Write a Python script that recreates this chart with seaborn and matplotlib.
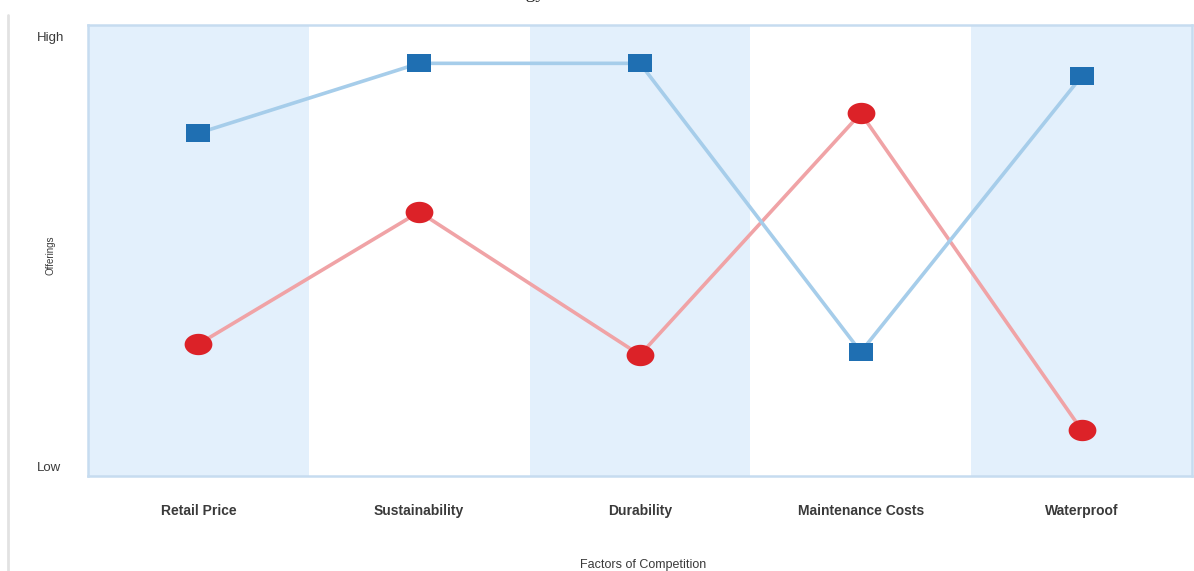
import numpy as np
import pandas as pd
import matplotlib
matplotlib.use("Agg")
import matplotlib.pyplot as plt
import seaborn as sns
from matplotlib.lines import Line2D

# Factors and offering levels (0 = Low, 10 = High)
factors = ["Retail Price", "Sustainability", "Durability", "Maintenance Costs", "Waterproof"]
blue_offering = [7.75, 9.37, 9.37, 2.67, 9.07]
red_offering = [2.85, 5.92, 2.60, 8.21, 0.86]
level_ticks = [0, 10]
level_labels = ["Low", "High"]

sns.set_theme(style="white")
plt.rcParams["font.family"] = ["Liberation Sans", "DejaVu Sans"]

df = pd.DataFrame({
    "pos": list(range(len(factors))) * 2,
    "level": blue_offering + red_offering,
    "series": ["blue"] * len(factors) + ["red"] * len(factors),
})

fig = plt.figure(figsize=(11.94, 5.71), dpi=100)
ax = fig.add_axes([88 / 1194, 1 - 476 / 571, (1192 - 88) / 1194, (476 - 25) / 571])

# alternating column shading
band_color = "#e3f0fc"
for i in range(len(factors)):
    if i % 2 == 0:
        ax.axvspan(i - 0.5, i + 0.5, color=band_color, lw=0, zorder=0)

# wide rectangle and ellipse markers
rect = [(-1.35, -1), (1.35, -1), (1.35, 1), (-1.35, 1), (-1.35, -1)]
t = np.linspace(0, 2 * np.pi, 60)
ellipse = list(zip(1.3 * np.cos(t), np.sin(t)))

blue_df = df[df.series == "blue"]
red_df = df[df.series == "red"]

sns.lineplot(data=red_df, x="pos", y="level", ax=ax, color="#f0a3a6", lw=2.6,
             marker=ellipse, markersize=20, markerfacecolor="#dc2228",
             markeredgewidth=0, zorder=3)
sns.lineplot(data=blue_df, x="pos", y="level", ax=ax, color="#a6cdea", lw=2.6,
             marker=rect, markersize=17.5, markerfacecolor="#1f6fb2",
             markeredgewidth=0, zorder=3)

ax.set_xlim(-0.5, len(factors) - 0.5)
ax.set_ylim(-0.21, 10.26)
ax.set_xticks(range(len(factors)))
ax.set_xticklabels(factors, fontsize=10, fontweight="bold", color="#3a3a3a")
ax.set_yticks(level_ticks)
ax.set_yticklabels(level_labels, fontsize=9.5, color="#3a3a3a")
for lbl in ax.get_yticklabels():
    lbl.set_horizontalalignment("left")
ax.tick_params(axis="x", length=0, pad=20)
ax.tick_params(axis="y", length=0, pad=37)
ax.set_xlabel("")
ax.set_ylabel("")

for s in ax.spines.values():
    s.set_color("#c6dcf0")
    s.set_linewidth(1.8)

fig.text(643 / 1194, 1 - 565 / 571, "Factors of Competition", ha="center", va="center",
         fontsize=9, color="#3a3a3a")
fig.text(50 / 1194, 1 - 255 / 571, "Offerings", ha="center", va="center",
         rotation=90, fontsize=7, color="#3a3a3a")

# heading above the chart, mostly beyond the top edge
fig.text(480 / 1194, 1 + 2 / 571, "Strategy Canvas", ha="left", va="baseline",
         fontsize=14, family="Liberation Serif", color="#222222")

# thin rule along the left edge
fig.add_artist(Line2D([8 / 1194, 8 / 1194], [0, 1 - 15 / 571], transform=fig.transFigure,
                      color="#e2e2e2", lw=2))

fig.savefig("out.png", dpi=100)
